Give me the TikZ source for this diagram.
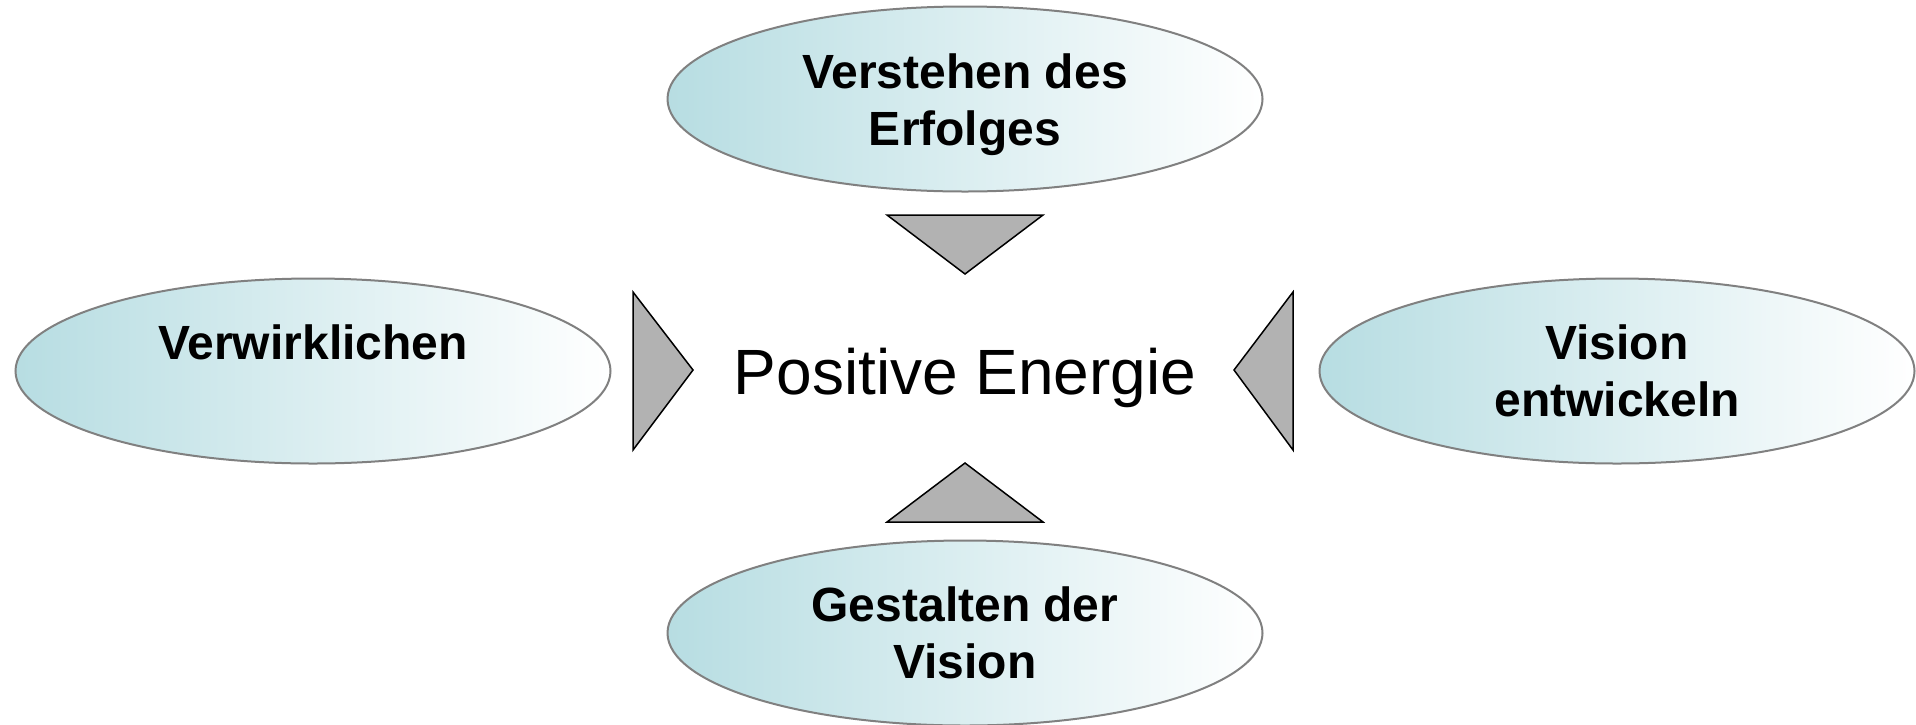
\documentclass[tikz,border=0pt]{standalone}
\usepackage{fontspec}
\setmainfont{Liberation Sans}
\usetikzlibrary{shapes.geometric}
\definecolor{paleteal}{RGB}{183,221,226}
\definecolor{wedgegray}{RGB}{178,178,178}
\tikzset{
  bubble/.style={ellipse, draw=gray, line width=1pt, left color=paleteal, right color=white,
    minimum width=297.5pt, minimum height=92.5pt, inner sep=0pt, align=center,
    font=\fontsize{24}{28.7}\selectfont\bfseries},
  wedge/.style={draw=black, line width=0.75pt, fill=wedgegray, line join=miter}
}
\begin{document}
\begin{tikzpicture}[x=0.5pt, y=-0.5pt]
   \useasboundingbox (0,0) rectangle (1916,724);
   \node[font=\fontsize{32}{38}\selectfont] (energy) at (965,378) {Positive Energie};
   \node[bubble, text height=52pt] (understand) at (965,99) {Verstehen des\\Erfolges};
   \node[bubble] (realise) at (313,371) {Verwirklichen\\\mbox{}};
   \node[bubble] (vision) at (1617,371) {Vision\\entwickeln};
   \node[bubble] (shape) at (965,633) {Gestalten der\\Vision};
   % wedges pointing at the centre
   \draw[wedge] (887,215) -- (1043,215) -- (965,274) -- cycle;
   \draw[wedge] (887,522) -- (1043,522) -- (965,463) -- cycle;
   \draw[wedge] (633,292) -- (633,450) -- (693,370) -- cycle;
   \draw[wedge] (1293,292) -- (1293,450) -- (1234,370) -- cycle;
\end{tikzpicture}
\end{document}
